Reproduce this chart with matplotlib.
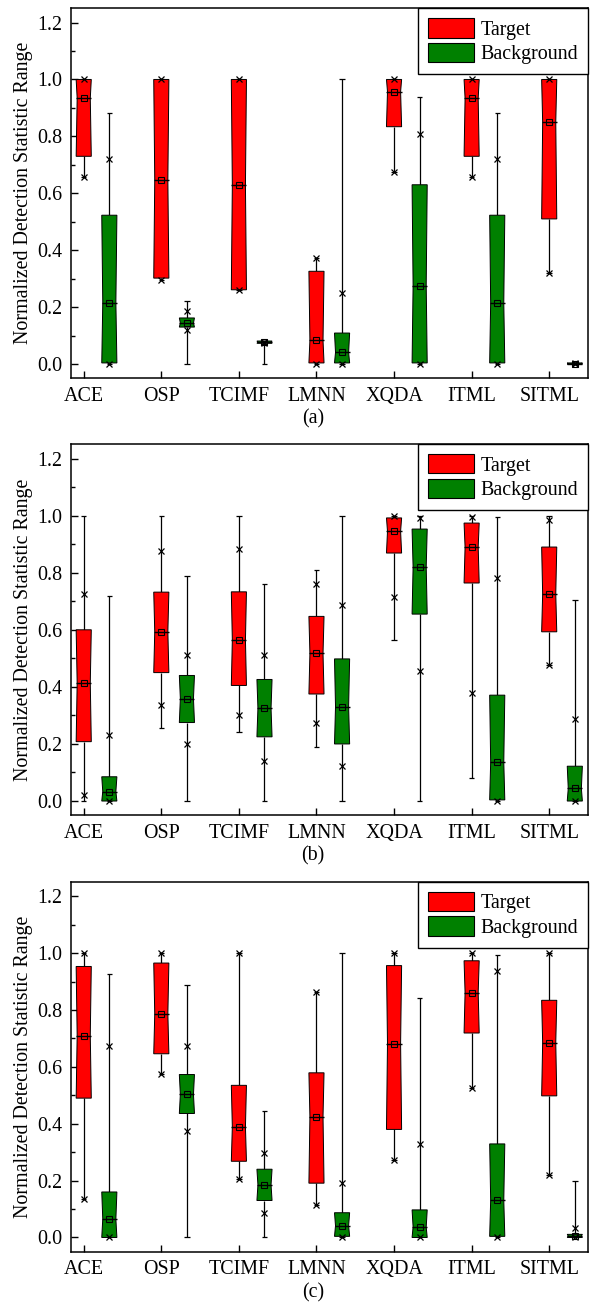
import matplotlib
matplotlib.use("Agg")
import matplotlib.pyplot as plt
from matplotlib.patches import Patch
from matplotlib.ticker import MultipleLocator
import numpy as np

plt.rcParams['font.family'] = ['Liberation Serif', 'DejaVu Serif']

methods = ["ACE", "OSP", "TCIMF", "LMNN", "XQDA", "ITML", "SITML"]
panel_labels = ["(a)", "(b)", "(c)"]
series_names = ["Target", "Background"]

# ---- Target statistics, one row per panel (a), (b), (c) ----
target_q1 = [[0.730, 0.302, 0.261, 0.004, 0.834, 0.730, 0.510],
             [0.208, 0.450, 0.405, 0.375, 0.869, 0.764, 0.593],
             [0.490, 0.646, 0.268, 0.191, 0.380, 0.719, 0.498]]
target_med = [[0.934, 0.647, 0.628, 0.083, 0.957, 0.934, 0.850],
              [0.413, 0.593, 0.564, 0.517, 0.945, 0.890, 0.725],
              [0.710, 0.786, 0.389, 0.425, 0.681, 0.861, 0.685]]
target_q3 = [[1.000, 1.000, 1.000, 0.326, 1.000, 1.000, 1.000],
             [0.600, 0.732, 0.733, 0.647, 0.992, 0.974, 0.890],
             [0.953, 0.965, 0.535, 0.579, 0.956, 0.973, 0.834]]
target_whislo = [[0.657, 0.297, 0.259, 0.000, 0.674, 0.658, 0.320],
                 [0.000, 0.255, 0.243, 0.188, 0.564, 0.082, 0.475],
                 [0.135, 0.574, 0.207, 0.113, 0.271, 0.526, 0.218]]
target_whishi = [[1.000, 1.000, 1.000, 0.373, 1.000, 1.000, 1.000],
                 [1.000, 1.000, 1.000, 0.811, 1.000, 0.998, 1.000],
                 [1.000, 1.000, 1.000, 0.863, 1.000, 1.000, 1.000]]
target_plo = [[0.657, 0.297, 0.259, 0.000, 0.674, 0.658, 0.320],
              [0.021, 0.337, 0.303, 0.274, 0.715, 0.380, 0.475],
              [0.135, 0.574, 0.207, 0.113, 0.271, 0.526, 0.218]]
target_phi = [[1.000, 1.000, 1.000, 0.373, 1.000, 1.000, 1.000],
              [0.726, 0.877, 0.882, 0.761, 0.998, 0.995, 0.986],
              [1.000, 1.000, 1.000, 0.863, 1.000, 1.000, 1.000]]

# ---- Background statistics ----
bg_q1 = [[0.004, 0.130, 0.073, 0.004, 0.004, 0.004, 0.000],
         [0.000, 0.275, 0.225, 0.200, 0.655, 0.004, 0.000],
         [0.000, 0.436, 0.130, 0.004, 0.000, 0.004, 0.000]]
bg_med = [[0.216, 0.144, 0.077, 0.041, 0.276, 0.216, 0.001],
          [0.033, 0.359, 0.325, 0.331, 0.820, 0.136, 0.044],
          [0.065, 0.503, 0.185, 0.041, 0.037, 0.131, 0.005]]
bg_q3 = [[0.523, 0.162, 0.081, 0.109, 0.630, 0.523, 0.004],
         [0.085, 0.440, 0.426, 0.498, 0.953, 0.371, 0.122],
         [0.160, 0.573, 0.240, 0.087, 0.097, 0.329, 0.011]]
bg_whislo = [[0.0, 0.0, 0.0, 0.0, 0.0, 0.0, 0.0],
             [0.0, 0.0, 0.0, 0.0, 0.0, 0.0, 0.0],
             [0.0, 0.0, 0.0, 0.0, 0.0, 0.0, 0.0]]
bg_whishi = [[0.883, 0.222, 0.081, 1.000, 0.939, 0.883, 0.004],
             [0.720, 0.788, 0.761, 1.000, 0.998, 0.994, 0.704],
             [0.925, 0.889, 0.443, 1.000, 0.843, 0.992, 0.200]]
bg_plo = [[0.000, 0.121, 0.075, 0.000, 0.000, 0.000, 0.000],
          [0.000, 0.199, 0.139, 0.122, 0.457, 0.000, 0.000],
          [0.000, 0.375, 0.085, 0.000, 0.000, 0.000, 0.000]]
bg_phi = [[0.719, 0.188, 0.079, 0.250, 0.810, 0.719, 0.003],
          [0.233, 0.511, 0.513, 0.688, 0.991, 0.782, 0.288],
          [0.675, 0.674, 0.296, 0.192, 0.330, 0.938, 0.034]]

W, H = 591, 1307
fig = plt.figure(figsize=(W / 100, H / 100), dpi=100)

# axes boxes in pixels: (left, top, right, bottom)
ax_px = [(71, 8.3, 588, 378.3), (71, 444.3, 588, 815.3), (71, 882, 588, 1251.7)]

colors = ["#ff0000", "#008000"]
offsets = [0.0, 0.33]
box_w = 0.195
notch = 0.013
cap_w = 0.035
FS = 14.4

def draw_box(ax, x, q1, med, q3, wlo, whi, plo, phi, color):
    hw = box_w / 2
    # whiskers
    ax.vlines([x, x], [q3, wlo], [whi, q1], colors="black", lw=0.9, zorder=2)
    ax.hlines([whi, wlo], x - cap_w, x + cap_w, colors="black", lw=0.9, zorder=2)
    # notched box
    xs = [x - hw, x + hw, x + hw - notch, x + hw, x - hw, x - hw + notch]
    ys = [q1, q1, med, q3, q3, med]
    ax.fill(xs, ys, facecolor=color, edgecolor="black", lw=0.7, zorder=3)
    # median line
    ax.hlines(med, x - hw, x + hw, colors="black", lw=1.0, zorder=4)
    # mean marker
    ax.plot([x], [med], marker="s", ms=4, mfc="none", mec="black", mew=0.8, zorder=5)
    # percentile markers
    ax.plot([x, x], [plo, phi], ls="none", marker="x", ms=4, mec="black", mew=0.9, zorder=5)

stats = [
    (target_q1, target_med, target_q3, target_whislo, target_whishi, target_plo, target_phi),
    (bg_q1, bg_med, bg_q3, bg_whislo, bg_whishi, bg_plo, bg_phi),
]

pos = np.arange(1, len(methods) + 1)

for p, (l, t, r, b) in enumerate(ax_px):
    ax = fig.add_axes([l / W, 1 - b / H, (r - l) / W, (b - t) / H])
    for s, st in enumerate(stats):
        q1, med, q3, wlo, whi, plo, phi = [np.array(a[p]) for a in st]
        for i in range(len(methods)):
            draw_box(ax, pos[i] + offsets[s], q1[i], med[i], q3[i], wlo[i], whi[i],
                     plo[i], phi[i], colors[s])
    ax.set_xlim(0.836, 7.5)
    ax.set_ylim(-0.05, 1.25)
    ax.set_xticks(pos)
    ax.set_xticklabels(methods, fontsize=FS)
    ax.yaxis.set_major_locator(MultipleLocator(0.2))
    ax.yaxis.set_minor_locator(MultipleLocator(0.1))
    ax.set_yticks(np.arange(0, 1.21, 0.2))
    ax.set_yticklabels([f"{v:.1f}" for v in np.arange(0, 1.21, 0.2)], fontsize=FS)
    ax.tick_params(axis="both", which="major", direction="in", length=5, width=1.0, pad=6)
    ax.tick_params(axis="y", which="minor", direction="in", length=3, width=1.0)
    ax.tick_params(axis="x", which="minor", bottom=False)
    for sp in ax.spines.values():
        sp.set_linewidth(1.1)
    ax.set_ylabel("Normalized Detection Statistic Range", fontsize=FS, labelpad=3)
    handles = [Patch(facecolor=colors[k], edgecolor="black", lw=0.8, label=series_names[k])
               for k in range(2)]
    leg = ax.legend(handles=handles, loc="upper right", fontsize=FS, frameon=True,
                    fancybox=False, shadow=False, borderaxespad=0, framealpha=1,
                    handlelength=2.3, handleheight=1.1, handletextpad=0.33,
                    labelspacing=0.15, borderpad=0.5)
    leg.get_frame().set_edgecolor("black")
    leg.get_frame().set_linewidth(1.0)
    fig.text(313 / W, 1 - (b + 41) / H, panel_labels[p], ha="center", va="center", fontsize=FS)

fig.savefig("out.png", dpi=100)
